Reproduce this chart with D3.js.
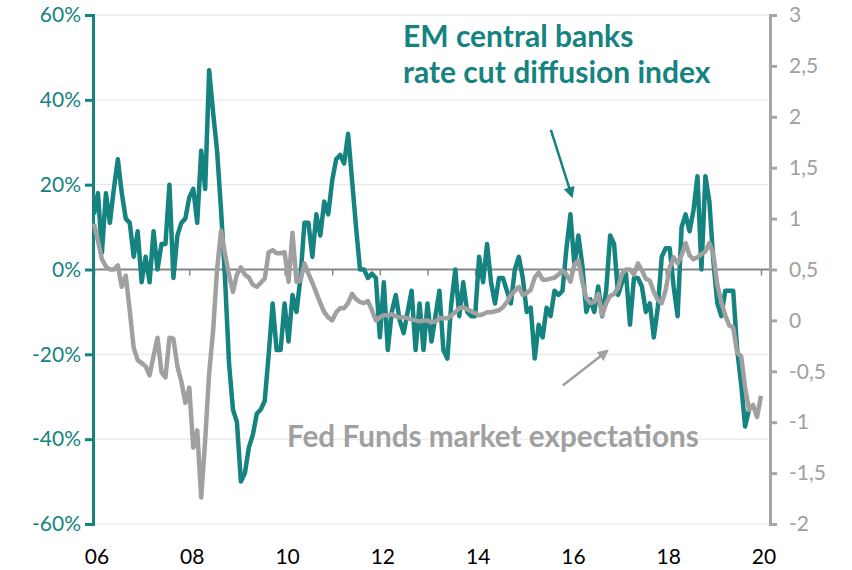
<!DOCTYPE html>
<html>
<head>
<meta charset="utf-8">
<script src="https://cdn.jsdelivr.net/npm/d3@7"></script>
<style>
  body { margin: 0; background: #fff; }
  svg { display: block; font-family: Lato, "Open Sans", sans-serif; }
</style>
</head>
<body>
<svg id="chart" width="852" height="570"></svg>
<script>
// monthly, starting Jan 2006
const emDiffusion = [
  13, 18, 4, 18, 11, 19, 26, 18, 12, 11, 3, 9,
  -3, 3, -3, 9, 0, 6, 6, 20, -2, 8, 11, 12,
  17, 19, 11, 28, 19, 47, 37, 28, 14, -2, -22, -33,
  -36, -50, -48, -42, -39, -34, -33, -31, -20, -8, -19, -19,
  -8, -17, -6, -10, -2, 11, 11, 3, 13, 8, 16, 13,
  21, 26, 27, 25, 32, 21, 10, 0, 0, -2, -1, -2,
  -16, -3, -19, -10, -6, -12, -15, -10, -5, -19, -8, -19,
  -8, -17, -11, -5, -19, -21, -8, 0, -11, -3, -10, -11,
  -11, 3, -3, 6, -3, -8, -2, -2, -5, -8, 0, 3,
  -2, -10, -9, -21, -13, -16, -9, -11, -5, -6, -5, 5,
  13, 1, 8, 1, -10, -7, -10, -4, -11, -5, 8, 6,
  -6, -3, -1, -13, -2, -2, -4, -10, -8, -16, -9, 3,
  5, 5, -4, -11, 10, 13, 9, 14, 22, 0, 22, 16,
  2, -8, -11, -5, -5, -5, -19, -27, -37, -33
]

const fedExpectations = [
  0.95, 0.78, 0.6, 0.53, 0.5, 0.5, 0.54, 0.33, 0.44, 0.1, -0.27, -0.39,
  -0.42, -0.45, -0.54, -0.35, -0.17, -0.51, -0.56, -0.17, -0.18, -0.45, -0.6, -0.81,
  -0.66, -1.25, -1.08, -1.74, -1.18, -0.52, -0.1, 0.5, 0.88, 0.65, 0.45, 0.28,
  0.45, 0.52, 0.45, 0.42, 0.35, 0.33, 0.37, 0.41, 0.67, 0.69, 0.66, 0.66,
  0.67, 0.38, 0.86, 0.38, 0.39, 0.56, 0.46, 0.37, 0.27, 0.17, 0.08, 0.03,
  0.0, 0.08, 0.12, 0.12, 0.17, 0.26, 0.21, 0.18, 0.17, 0.19, 0.1, 0.0,
  0.03, 0.05, 0.05, 0.06, 0.04, 0.03, 0.03, 0.02, 0.01, 0.0, -0.01, 0.0,
  0.0, -0.02, -0.01, 0.02, 0.02, 0.02, 0.05, 0.08, 0.12, 0.13, 0.11, 0.09,
  0.07, 0.05, 0.06, 0.08, 0.08, 0.09, 0.1, 0.13, 0.18, 0.25, 0.29, 0.33,
  0.25, 0.27, 0.3, 0.42, 0.47, 0.4, 0.4, 0.41, 0.42, 0.45, 0.49, 0.45,
  0.38, 0.55, 0.59, 0.38, 0.22, 0.17, 0.18, 0.26, 0.05, 0.17, 0.24, 0.26,
  0.32, 0.46, 0.5, 0.5, 0.45, 0.56, 0.49, 0.41, 0.39, 0.28, 0.2, 0.17,
  0.3, 0.52, 0.62, 0.56, 0.64, 0.76, 0.64, 0.6, 0.62, 0.65, 0.68, 0.76,
  0.65, 0.35, 0.18, 0.05, -0.05, -0.07, -0.32, -0.35, -0.66, -0.88, -0.83, -0.95,
  -0.74
]

const yearTicks = d3.range(2006, 2021)
const yearLabels = d3.range(2006, 2021, 2)
const leftTicks = [-60, -40, -20, 0, 20, 40, 60]
const rightTicks = [-2, -1.5, -1, -0.5, 0, 0.5, 1, 1.5, 2, 2.5, 3]

const teal = '#15837f'
const grey = '#a0a0a0'

let svg = d3.select('#chart')
let plotLeft = 93
let plotRight = 770

let x = d3.scaleLinear().domain([2006, 2020]).range([94, 761])
let yL = d3.scaleLinear().domain([-60, 60]).range([524, 15])
let yR = d3.scaleLinear().domain([-2, 3]).range([524, 15])
let month = i => 2006 + i / 12

// gridlines
svg.append('g')
  .selectAll('line')
  .data(leftTicks.filter(d => d !== 0))
  .enter()
  .append('line')
  .attr('x1', plotLeft)
  .attr('x2', plotRight)
  .attr('y1', d => yL(d))
  .attr('y2', d => yL(d))
  .attr('stroke', '#e4e4e4')
  .attr('stroke-width', 1)

// zero line acting as the category axis
let xAxis = d3.axisBottom(x).tickValues(yearTicks).tickSize(6).tickFormat('')
let gx = svg.append('g')
  .attr('transform', `translate(0,${yL(0)})`)
  .call(xAxis)
gx.select('.domain').attr('d', `M${plotLeft},0H${plotRight}`).attr('stroke', '#858585').attr('stroke-width', 2)
gx.selectAll('.tick line').attr('stroke', '#858585').attr('stroke-width', 1.5)

// year labels along the bottom
svg.append('g')
  .selectAll('text')
  .data(yearLabels)
  .enter()
  .append('text')
  .attr('x', d => x(d) + 3)
  .attr('y', 564)
  .attr('text-anchor', 'middle')
  .attr('font-size', 21)
  .attr('fill', '#000')
  .text(d => String(d % 100).padStart(2, '0'))

// left axis
let gl = svg.append('g')
  .attr('transform', `translate(${plotLeft},0)`)
  .call(d3.axisLeft(yL).tickValues(leftTicks).tickSize(8).tickPadding(4).tickFormat(d => d + '%'))
gl.select('.domain').attr('stroke', teal).attr('stroke-width', 3)
gl.selectAll('.tick line').attr('stroke', teal).attr('stroke-width', 3)
gl.selectAll('.tick text').attr('fill', teal).attr('font-size', 21).attr('font-family', 'Lato, sans-serif')

// right axis
let gr = svg.append('g')
  .attr('transform', `translate(${plotRight},0)`)
  .call(d3.axisRight(yR).tickValues(rightTicks).tickSize(7).tickPadding(12)
    .tickFormat(d => String(d).replace('.', ',')))
gr.select('.domain').attr('stroke', '#a6a6a6').attr('stroke-width', 3)
gr.selectAll('.tick line').attr('stroke', '#a6a6a6').attr('stroke-width', 3)
gr.selectAll('.tick text').attr('fill', '#a0a0a0').attr('font-size', 21).attr('font-family', 'Lato, sans-serif')

// series
let lineL = d3.line().x((d, i) => x(month(i))).y(d => yL(d))
let lineR = d3.line().x((d, i) => x(month(i))).y(d => yR(d))

svg.append('path')
  .datum(emDiffusion)
  .attr('d', lineL)
  .attr('fill', 'none')
  .attr('stroke', teal)
  .attr('stroke-width', 4.5)
  .attr('stroke-linejoin', 'round')

svg.append('path')
  .datum(fedExpectations)
  .attr('d', lineR)
  .attr('fill', 'none')
  .attr('stroke', grey)
  .attr('stroke-width', 4.5)
  .attr('stroke-linejoin', 'round')

// annotations
let defs = svg.append('defs')
;[['tealHead', teal], ['greyHead', grey]].forEach(([id, c]) => {
  defs.append('marker')
    .attr('id', id)
    .attr('viewBox', '0 0 10 10')
    .attr('refX', 8)
    .attr('refY', 5)
    .attr('markerWidth', 4.5)
    .attr('markerHeight', 4.5)
    .attr('orient', 'auto')
    .append('path')
    .attr('d', 'M0,0L10,5L0,10Z')
    .attr('fill', c)
})

svg.append('line')
  .attr('x1', x(2015.59)).attr('y1', yL(32.9))
  .attr('x2', x(2016.03)).attr('y2', yL(17.3))
  .attr('stroke', teal).attr('stroke-width', 2.5)
  .attr('marker-end', 'url(#tealHead)')

svg.append('line')
  .attr('x1', x(2015.84)).attr('y1', yR(-0.64))
  .attr('x2', x(2016.77)).attr('y2', yR(-0.3))
  .attr('stroke', grey).attr('stroke-width', 2.5)
  .attr('marker-end', 'url(#greyHead)')

svg.append('text')
  .attr('x', 403).attr('y', 47)
  .attr('font-size', 30).attr('font-weight', 'bold').attr('fill', teal)
  .text('EM central banks')
svg.append('text')
  .attr('x', 403).attr('y', 83)
  .attr('font-size', 30).attr('font-weight', 'bold').attr('fill', teal)
  .text('rate cut diffusion index')

svg.append('text')
  .attr('x', 287).attr('y', 447)
  .attr('font-size', 29.7).attr('font-weight', 'bold').attr('fill', grey)
  .text('Fed Funds market expectations')
</script>
</body>
</html>
